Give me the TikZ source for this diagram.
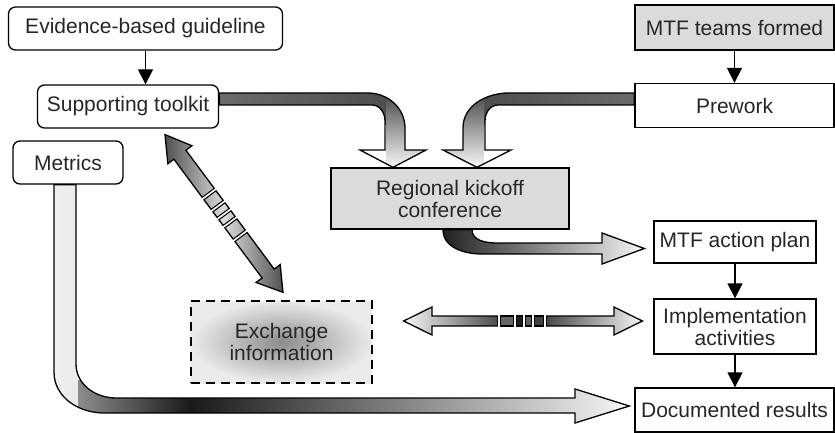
\documentclass[tikz,border=0pt]{standalone}
\usepackage{fontspec}
\setmainfont{Liberation Sans}
\usetikzlibrary{arrows.meta}

\begin{document}
\begin{tikzpicture}[
    x=1pt, y=-1pt,
    font=\fontsize{21}{22}\selectfont,
    every node/.style={text=black!85},
    roundbox/.style={draw, line width=1.3pt, rounded corners=7pt, minimum height=43pt, inner sep=0pt, align=center},
    flatbox/.style={draw, line width=1.3pt, minimum height=44pt, inner sep=0pt, align=center},
    flow/.style={-{Triangle[width=15pt,length=15pt]}, line width=1.3pt},
    fat/.style={draw, line width=1.3pt}
  ]
  \useasboundingbox (0,0) rectangle (835,433);

  % Left column
  \node[roundbox, minimum width=274pt] (guide) at (145.5,28.5) {Evidence-based guideline};
  \node[roundbox, minimum width=181pt] (toolkit) at (128,106.5) {Supporting toolkit};
  \node[roundbox, minimum width=110pt] (metrics) at (68,162.5) {Metrics};

  % Right column
  \node[flatbox, fill=black!14, minimum width=199pt, minimum height=45pt] (teams) at (734.5,27.5) {MTF teams formed};
  \node[flatbox, minimum width=199pt] (prework) at (734.5,105.5) {Prework};
  \node[flatbox, minimum width=162pt, minimum height=42pt] (plan) at (735,242) {MTF action plan};
  \node[flatbox, minimum width=162pt, minimum height=55pt] (impl) at (735,326.5) {Implementation\\activities};
  \node[flatbox, minimum width=199pt] (results) at (734.5,410) {Documented results};

  % Middle
  \node[flatbox, fill=black!14, minimum width=238pt, minimum height=61pt] (kickoff) at (450,198.5) {Regional kickoff\\conference};
  \node[draw, line width=1.3pt, dash pattern=on 9pt off 6pt, inner color=black!45, outer color=black!8,
        minimum width=181pt, minimum height=82pt, inner sep=0pt, align=center] (exchange) at (281.5,342) {Exchange\\information};

  % Thin arrows
  \draw[flow] (guide.south) -- (guide.south |- toolkit.north);
  \draw[flow] (teams) -- (prework);
  \draw[flow] (plan) -- (impl);
  \draw[flow] (impl.south) -- (impl.south |- results.north);

  % Toolkit into kickoff
  \draw[fat, path picture={
      \shade[left color=black!58, right color=black!72] (215,88) rectangle (386,125);
      \shade[top color=black!72, bottom color=black!2] (386,93) rectangle (430,168);
    }]
    ([yshift=13.5pt]toolkit.east) -- (368,93) to[out=0,in=90] (405,128) -- (405,150) -- (426,150)
    -- ([xshift=-57pt]kickoff.north) -- (360,150) -- (385,150) -- (385,121) to[out=90,in=0] (372,105)
    -- ([yshift=1.5pt]toolkit.east) -- cycle;

  % Prework into kickoff
  \draw[fat, path picture={
      \shade[left color=black!72, right color=black!58] (484,88) rectangle (640,125);
      \shade[top color=black!72, bottom color=black!2] (440,93) rectangle (484,168);
    }]
    ([yshift=12.5pt]prework.west) -- (509,93) to[out=180,in=90] (463,128) -- (463,150) -- (443,150)
    -- ([xshift=27pt]kickoff.north) -- (511,150) -- (485,150) -- (485,121) to[out=90,in=180] (498,105)
    -- ([yshift=0.5pt]prework.west) -- cycle;

  % Kickoff to action plan
  \draw[fat, path picture={
      \shade[left color=black!88, right color=black!3] (440,226) rectangle (646,266);
    }]
    ([xshift=-7pt]kickoff.south) to[out=-90,in=180] (482,254) -- (602,254) -- (602,264)
    -- ([xshift=-9pt,yshift=-6.5pt]plan.west) -- (602,233) -- (602,243) -- (497,243)
    to[out=180,in=-90] ([xshift=22pt]kickoff.south) -- cycle;

  % Metrics down and over to results
  \draw[fat, path picture={
      \shade[left color=black!6, right color=black!45] (52,182) rectangle (78,425);
      \shade[left color=black!45, right color=black!90] (78,380) rectangle (190,425);
      \shade[left color=black!90, right color=black!3] (190,385) rectangle (632,425);
    }]
    ([xshift=-14pt]metrics.south) -- (54,372) to[out=-90,in=180] (104,413) -- (575,413) -- (575,423)
    -- ([xshift=-5pt,yshift=4pt]results.west) -- (575,389) -- (575,398) -- (116,398)
    to[out=180,in=-90] (76,364) -- ([xshift=8pt]metrics.south) -- cycle;

  % Toolkit <-> exchange (broken shaft)
  \coordinate (diagA) at ([xshift=37pt,yshift=-6pt]toolkit.south);
  \coordinate (diagB) at ([xshift=1.5pt,yshift=8pt]exchange.north);
  \begin{scope}[shift={(diagA)}, rotate=-53.4]
    \shade[fat, left color=black!68, right color=black!68, middle color=black!14]
      (diagA) -- (25,15) -- (25,7.5) -- (173,7.5) -- (173,15) -- (diagB)
      -- (173,-15) -- (173,-7.5) -- (25,-7.5) -- (25,-15) -- cycle;
    \foreach \s in {74,89,99,109,126} {
      \draw[line width=4pt] (\s,-7.5) -- (\s,7.5);
      \draw[white, line width=1.6pt] (\s,-9) -- (\s,9);
    }
  \end{scope}

  % Exchange <-> implementation (broken shaft)
  \coordinate (swapL) at ([xshift=31pt,yshift=21pt]exchange.east);
  \coordinate (swapR) at ([xshift=-11pt,yshift=5.5pt]impl.west);
  \shade[fat, left color=black!3, right color=black!3, middle color=black!88]
    (swapL) -- (432,307) -- (432,316) -- (614,316) -- (614,307) -- (swapR)
    -- (614,335) -- (614,326) -- (432,326) -- (432,335) -- cycle;
  \foreach \a/\b/\c in {499/514.75/60, 514.75/523.75/88, 523.75/533.25/62, 533.25/545/75}
    \draw[line width=1.3pt, fill=black!\c] (\a,316) rectangle (\b,326);
  \foreach \s in {499,514.75,523.75,533.25,545} {
    \draw[line width=3.6pt] (\s,316) -- (\s,326);
    \draw[white, line width=1.6pt] (\s,314.5) -- (\s,327.5);
  }

\end{tikzpicture}
\end{document}
